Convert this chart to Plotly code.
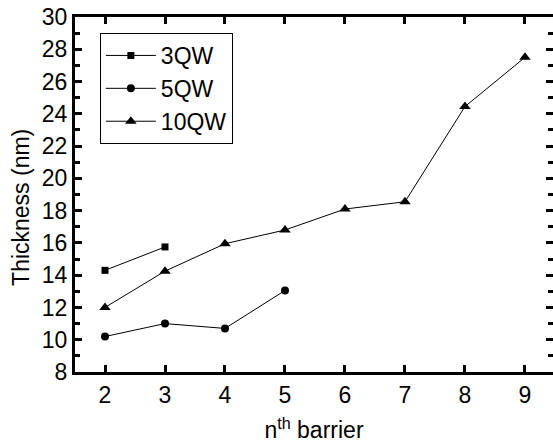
import plotly.graph_objects as go

x_3qw = [2, 3]
y_3qw = [14.3, 15.75]
x_5qw = [2, 3, 4, 5]
y_5qw = [10.2, 11.0, 10.7, 13.05]
x_10qw = [2, 3, 4, 5, 6, 7, 8, 9]
y_10qw = [12.0, 14.25, 15.95, 16.8, 18.1, 18.55, 24.45, 27.5]

FONT = "Liberation Sans, Arial, sans-serif"
FS = 23

fig = go.Figure()
fig.add_trace(go.Scatter(x=x_3qw, y=y_3qw, name="3QW", mode="lines+markers",
                         line=dict(color="black", width=1),
                         marker=dict(symbol="square", size=7, color="black")))
fig.add_trace(go.Scatter(x=x_5qw, y=y_5qw, name="5QW", mode="lines+markers",
                         line=dict(color="black", width=1),
                         marker=dict(symbol="circle", size=8, color="black")))
fig.add_trace(go.Scatter(x=x_10qw, y=y_10qw, name="10QW", mode="lines+markers",
                         line=dict(color="black", width=1),
                         marker=dict(symbol="triangle-up", size=10, color="black")))

fig.update_layout(
    width=553, height=445,
    margin=dict(l=75, r=0, t=17, b=73, autoexpand=False),
    paper_bgcolor="white", plot_bgcolor="white",
    font=dict(family=FONT, size=FS, color="black"),
    showlegend=True,
    legend=dict(x=0.052, y=0.955, xanchor="left", yanchor="top",
                bordercolor="black", borderwidth=1, bgcolor="white",
                font=dict(size=FS, family=FONT), tracegroupgap=0,
                itemwidth=50),
    xaxis=dict(range=[1.5, 9.467], tickmode="linear", tick0=2, dtick=1,
               showline=True, linewidth=3, linecolor="black", mirror="ticks",
               ticks="inside", ticklen=7, tickwidth=3, tickcolor="black",
               showgrid=False, zeroline=False, automargin=False,
               tickfont=dict(size=FS, family=FONT),
               title=dict(text="n<sup>th</sup> barrier", font=dict(size=FS, family=FONT), standoff=16)),
    yaxis=dict(range=[8, 30], tickmode="linear", tick0=8, dtick=2,
               showline=True, linewidth=3, linecolor="black", mirror="ticks",
               ticks="inside", ticklen=7, tickwidth=3, tickcolor="black",
               minor=dict(ticks="inside", ticklen=5, tickwidth=3, dtick=1, tick0=8, tickcolor="black"),
               showgrid=False, zeroline=False, automargin=False,
               tickfont=dict(size=FS, family=FONT)),
    annotations=[dict(text="Thickness (nm)", xref="paper", yref="paper",
                      x=-0.113, y=0.465, xanchor="center", yanchor="middle",
                      textangle=-90, showarrow=False,
                      font=dict(size=FS, family=FONT, color="black"))],
)

fig.write_html("out.html", config={"displayModeBar": False},
               post_script="document.body.style.margin='0';document.body.style.overflow='hidden';")
